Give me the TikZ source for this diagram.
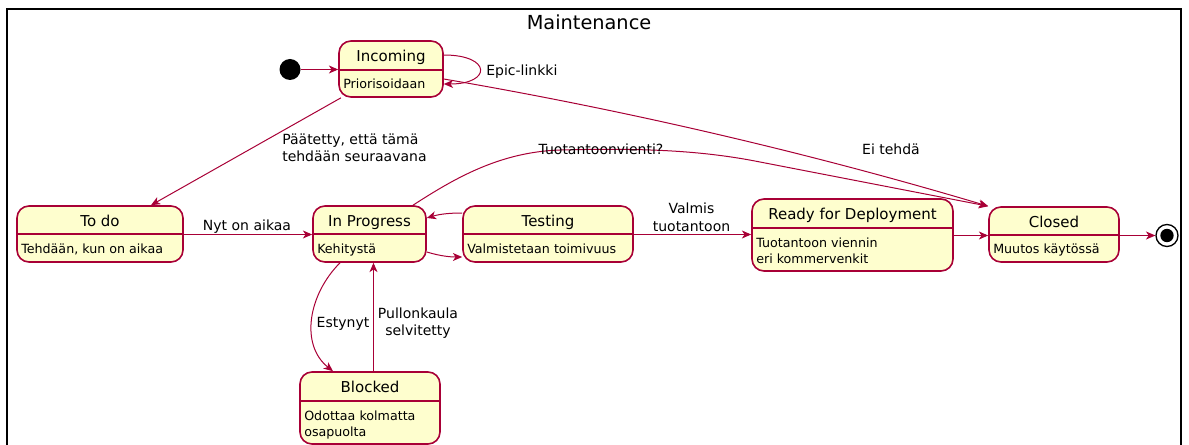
\documentclass[tikz,border=0pt]{standalone}
\usepackage{fontspec}
\setmainfont{DejaVu Sans}
\usetikzlibrary{positioning, arrows.meta, fit}

\definecolor{stfill}{HTML}{FEFECE}
\definecolor{stborder}{HTML}{A80036}

\begin{document}
\begin{tikzpicture}[x=0.75pt, y=-0.75pt,
    stbox/.style={draw=stborder, fill=stfill, line width=1.2pt, rounded corners=9pt, inner sep=0pt},
    stline/.style={draw=stborder, line width=1.2pt},
    sttitle/.style={font=\fontsize{11.25}{13}\selectfont, inner sep=0pt, text height=8.2pt, text depth=0pt},
    stbody/.style={font=\fontsize{9.5}{12}\selectfont, anchor=west, align=left, inner sep=0pt, text height=6.9pt, text depth=0pt},
    lbl/.style={font=\fontsize{10.5}{13}\selectfont, align=center, inner sep=0pt, text height=7.7pt, text depth=0pt},
    arr/.style={draw=stborder, line width=0.75pt, -{Stealth[length=7pt, width=6pt, inset=2pt]}}]
        \useasboundingbox (0,0) rectangle (1189,445);

        % Frame
        \node[draw, line width=1.5pt, inner sep=0pt, fit={(7,9) (1181,480)}] (maint) {};
        \node[font=\fontsize{14.5}{17}\selectfont, inner sep=0pt, text height=10.6pt, text depth=0pt] (maint-t) at (589,22) {Maintenance};

        % Start and end
        \node[circle, fill=black, minimum size=15.75pt, inner sep=0pt] (start) at (290,69.5) {};
        \node[circle, draw=black, line width=1pt, fill=white, minimum size=16.5pt, inner sep=0pt] (final) at (1167,235.5) {};
        \node[circle, fill=black, minimum size=10pt, inner sep=0pt] (final-in) at (final) {};

        % Incoming
        \node[stbox, fit={(339,41) (443,97)}] (inc) {};
        \draw[stline] (inc.west |- 0,70) -- (inc.east |- 0,70);
        \node[sttitle] (inc-t) at (391,56) {Incoming};
        \node[stbody] (inc-b) at (343,84) {Priorisoidaan};

        % To do
        \node[stbox, fit={(17,206) (183,262)}] (todo) {};
        \draw[stline] (todo.west |- 0,234) -- (todo.east |- 0,234);
        \node[sttitle] (todo-t) at (100,221) {To do};
        \node[stbody] (todo-b) at (21,249) {Tehdään, kun on aikaa};

        % In Progress
        \node[stbox, fit={(313,206) (426,262)}] (ip) {};
        \draw[stline] (ip.west |- 0,234) -- (ip.east |- 0,234);
        \node[sttitle] (ip-t) at (369.5,221) {In Progress};
        \node[stbody] (ip-b) at (317,249) {Kehitystä};

        % Testing
        \node[stbox, fit={(463,206) (633,262)}] (test) {};
        \draw[stline] (test.west |- 0,234) -- (test.east |- 0,234);
        \node[sttitle] (test-t) at (548,221) {Testing};
        \node[stbody] (test-b) at (467,249) {Valmistetaan toimivuus};

        % Blocked
        \node[stbox, fit={(300,372) (440,444)}] (blk) {};
        \draw[stline] (blk.west |- 0,401) -- (blk.east |- 0,401);
        \node[sttitle] (blk-t) at (370,387) {Blocked};
        \node[stbody, text height=18.9pt] (blk-b) at (304,423.5) {Odottaa kolmatta\\osapuolta};

        % Ready for Deployment
        \node[stbox, fit={(752,199) (953,271)}] (rdy) {};
        \draw[stline] (rdy.west |- 0,228) -- (rdy.east |- 0,228);
        \node[sttitle] (rdy-t) at (852.5,214) {Ready for Deployment};
        \node[stbody, text height=18.9pt] (rdy-b) at (756,250.5) {Tuotantoon viennin\\eri kommervenkit};

        % Closed
        \node[stbox, fit={(989,207) (1119,262)}] (clo) {};
        \draw[stline] (clo.west |- 0,235) -- (clo.east |- 0,235);
        \node[sttitle] (clo-t) at (1054,222) {Closed};
        \node[stbody] (clo-b) at (993,249) {Muutos käytössä};

        % Transitions
        \draw[arr] (start) -- (start -| inc.west);
        \draw[arr] (inc.east |- 0,55) .. controls +(48,0) and +(48,0) .. (inc.east |- 0,84);
        \node[lbl, anchor=west] (epic) at (486,70.5) {Epic-linkki};

        \draw[arr] (inc.south -| 341,0) -- (todo.north -| 151,0);
        \node[lbl, anchor=west, align=left, text height=20.7pt] (paat) at (282,148) {Päätetty, että tämä\\tehdään seuraavana};

        \draw[arr] (inc.east |- 0,79) .. controls (625,110) and (810,153) .. (clo.north west);
        \node[lbl] (eitehda) at (891,149) {Ei tehdä};

        \draw[arr] (todo.east |- 0,234.5) -- (ip.west |- 0,234.5);
        \node[lbl] (nyt) at (247,225) {Nyt on aikaa};

        \draw[arr] (test.west |- 0,213) .. controls (450,213) and (440,214) .. (ip.east |- 0,218);
        \draw[arr] (ip.east |- 0,252) .. controls (440,256) and (450,257) .. (test.west |- 0,257);

        \draw[arr] (ip.north -| 413,0) .. controls (455,178) and (500,152) .. (560,150) .. controls (640,148) and (700,150) .. (760,162) -- (clo.north west);
        \node[lbl] (tuot) at (601,149) {Tuotantoonvienti?};

        \draw[arr] (test.east |- 0,234.5) -- (rdy.west |- 0,234.5);
        \node[lbl, text height=20.7pt] (valmis) at (691.5,217.5) {Valmis\\tuotantoon};

        \draw[arr] (rdy.east |- 0,235.5) -- (clo.west |- 0,235.5);
        \draw[arr] (clo.east |- final) -- (final.west);

        \draw[arr] (ip.south -| 340,0) .. controls (308,295) and (300,345) .. (blk.north -| 333,0);
        \node[lbl] (est) at (343,322) {Estynyt};

        \draw[arr] (blk.north -| 373.5,0) -- (ip.south -| 373.5,0);
        \node[lbl, text height=20.7pt] (pull) at (418,322) {Pullonkaula\\selvitetty};
      \end{tikzpicture}
\end{document}
